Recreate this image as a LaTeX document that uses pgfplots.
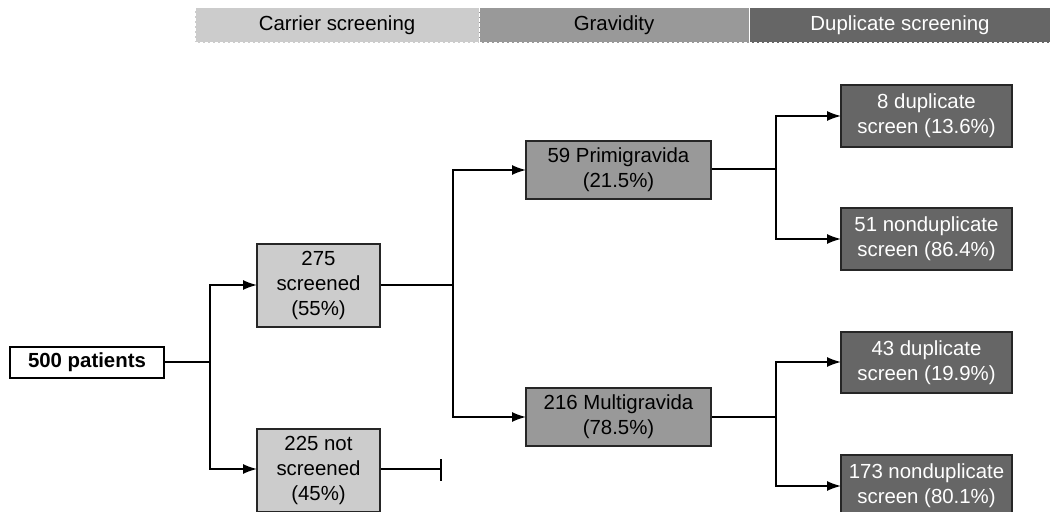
\documentclass[border=0pt]{standalone}
\usepackage{pgfplots}
\pgfplotsset{compat=1.18}
\usepackage{fontspec}
\setmainfont{Liberation Sans}
\usetikzlibrary{arrows.meta}
\definecolor{cA}{HTML}{CCCCCC}
\definecolor{cB}{HTML}{999999}
\definecolor{cC}{HTML}{666666}
\tikzset{arr/.style={{Latex[length=7pt,width=5pt]}-{Latex[length=7pt,width=5pt]}}}
\begin{document}
\begin{tikzpicture}[font=\fontsize{10.2}{12.6}\selectfont]
\begin{axis}[scale only axis, width=526pt, height=256pt,
  xmin=0, xmax=1052, ymin=0, ymax=512, y dir=reverse,
  axis lines=none, clip=false]
% header bands
\fill[cA] (axis cs:195,8) rectangle (axis cs:479,43);
\fill[cB] (axis cs:479,8) rectangle (axis cs:749,43);
\fill[cC] (axis cs:749,8) rectangle (axis cs:1050,43);
\draw[white, line width=0.5pt, dash pattern=on 1.5pt off 1pt] (axis cs:195,8) rectangle (axis cs:479,43);
\draw[white, line width=0.5pt, dash pattern=on 1.5pt off 1pt] (axis cs:479,8) rectangle (axis cs:749,43);
\draw[white, line width=0.5pt, dash pattern=on 1.5pt off 1pt] (axis cs:749,8) rectangle (axis cs:1050,43);
\node[black] at (axis cs:337,25.5) {Carrier screening};
\node[black] at (axis cs:614,25.5) {Gravidity};
\node[white] at (axis cs:900,25.5) {Duplicate screening};
% connectors
\addplot[black, line width=0.8pt, mark=none] coordinates {(164,362) (210,362)};
\addplot[black, line width=0.8pt, mark=none, line join=miter, arr] coordinates {(257,285) (210,285) (210,469) (257,469)};
\addplot[black, line width=0.8pt, mark=none] coordinates {(380,469) (441,469)};
\addplot[black, line width=0.8pt, mark=none] coordinates {(441,459) (441,481)};
\addplot[black, line width=0.8pt, mark=none] coordinates {(380,285) (453,285)};
\addplot[black, line width=0.8pt, mark=none, line join=miter, arr] coordinates {(526,170) (453,170) (453,417) (526,417)};
\addplot[black, line width=0.8pt, mark=none] coordinates {(711,169) (776,169)};
\addplot[black, line width=0.8pt, mark=none, line join=miter, arr] coordinates {(841,116) (776,116) (776,239) (841,239)};
\addplot[black, line width=0.8pt, mark=none] coordinates {(711,417) (776,417)};
\addplot[black, line width=0.8pt, mark=none, line join=miter, arr] coordinates {(841,362) (776,362) (776,486) (841,486)};
% boxes
\filldraw[fill=white, draw=black, line width=0.8pt] (axis cs:10,347) rectangle (axis cs:164,378);
\node at (axis cs:87,362.5) {\bfseries 500 patients};
\filldraw[fill=cA, draw=black!85, line width=0.8pt] (axis cs:257,244) rectangle (axis cs:380,327);
\node[align=center] at (axis cs:318.5,285.5) {275\\screened\\(55\%)};
\filldraw[fill=cA, draw=black!85, line width=0.8pt] (axis cs:257,429) rectangle (axis cs:380,512);
\node[align=center] at (axis cs:318.5,470.5) {225 not\\screened\\(45\%)};
\filldraw[fill=cB, draw=black!85, line width=0.8pt] (axis cs:526,141) rectangle (axis cs:711,199);
\node[align=center] at (axis cs:618.5,170) {59 Primigravida\\(21.5\%)};
\filldraw[fill=cB, draw=black!85, line width=0.8pt] (axis cs:526,388) rectangle (axis cs:711,446);
\node[align=center] at (axis cs:618.5,417) {216 Multigravida\\(78.5\%)};
\filldraw[fill=cC, draw=black!85, line width=0.8pt] (axis cs:841,85) rectangle (axis cs:1012,147);
\node[align=center, white] at (axis cs:926.5,116) {8 duplicate\\screen (13.6\%)};
\filldraw[fill=cC, draw=black!85, line width=0.8pt] (axis cs:841,208) rectangle (axis cs:1012,270);
\node[align=center, white] at (axis cs:926.5,239) {51 nonduplicate\\screen (86.4\%)};
\filldraw[fill=cC, draw=black!85, line width=0.8pt] (axis cs:841,332) rectangle (axis cs:1012,393);
\node[align=center, white] at (axis cs:926.5,362.5) {43 duplicate\\screen (19.9\%)};
\filldraw[fill=cC, draw=black!85, line width=0.8pt] (axis cs:841,455) rectangle (axis cs:1012,517);
\node[align=center, white] at (axis cs:926.5,486) {173 nonduplicate\\screen (80.1\%)};
\end{axis}
\pgfresetboundingbox
\path[use as bounding box] (current axis.south west) rectangle (current axis.north east);
\end{tikzpicture}
\end{document}
